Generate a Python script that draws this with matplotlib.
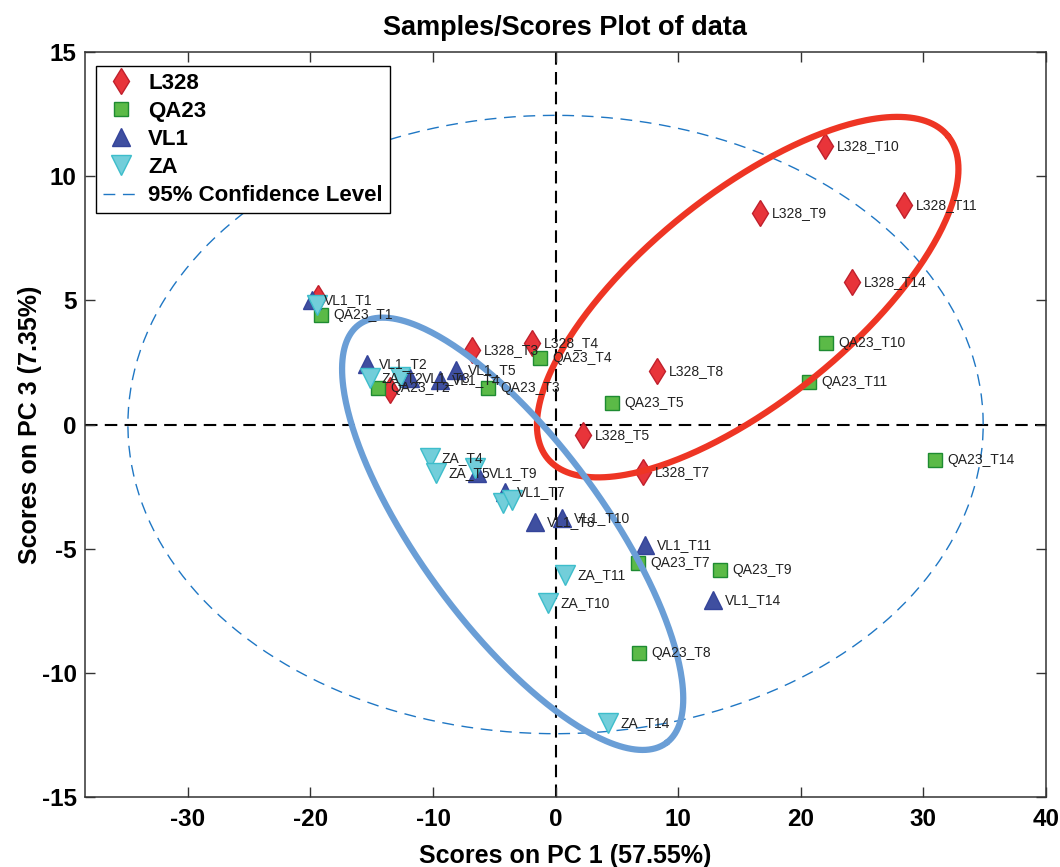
import matplotlib
matplotlib.use("Agg")
import matplotlib.pyplot as plt
from matplotlib.lines import Line2D
import numpy as np

plt.rcParams['font.family'] = ['Liberation Sans', 'DejaVu Sans']
plt.rcParams['axes.unicode_minus'] = False

# sampling times shared by every strain
sample_times = ["T1", "T2", "T3", "T4", "T5", "T7", "T8", "T9", "T10", "T11", "T14"]

# PCA scores (PC1, PC3) per strain
l328_pc1 = [-19.38, -13.49, -6.80, -1.91, 2.24, 7.15, 8.29, 16.70, 22.00, 28.45, 24.20]
l328_pc3 = [5.09, 1.39, 2.99, 3.28, -0.42, -1.91, 2.16, 8.52, 11.22, 8.84, 5.74]

qa23_pc1 = [-19.13, -14.47, -5.50, -1.25, 4.62, 6.75, 6.83, 13.43, 22.09, 20.70, 30.98]
qa23_pc3 = [4.41, 1.47, 1.47, 2.68, 0.87, -5.58, -9.20, -5.86, 3.28, 1.71, -1.43]

vl1_pc1 = [-19.86, -15.37, -11.86, -9.41, -8.11, -4.11, -1.66, -6.40, 0.54, 7.32, 12.86]
vl1_pc3 = [5.01, 2.42, 1.88, 1.80, 2.19, -2.72, -3.93, -1.95, -3.77, -4.85, -7.07]

za_pc1 = [-19.46, -15.14, -12.68, -10.23, -9.74, -4.27, -3.54, -6.56, -0.60, 0.79, 4.30]
za_pc3 = [4.81, 1.87, 1.91, -1.35, -1.95, -3.16, -3.04, -1.75, -7.19, -6.06, -12.00]

# labels suppressed by decluttering (they sit under other labels)
hidden_labels = {"L328_T1", "L328_T2", "ZA_T1", "ZA_T3", "ZA_T7", "ZA_T8", "ZA_T9"}

# 95% confidence ellipse semi-axes (PC1, PC3)
conf_a, conf_b = 34.9, 12.45

# group outlines: centre, major and minor half-axis vectors in score units
red_center, red_u, red_v = (15.68, 5.13), (16.36, 6.48), (5.31, -3.27)
blue_center, blue_u, blue_v = (-3.50, -4.40), (12.60, -8.40), (5.92, 2.28)

groups = [
    ("L328", l328_pc1, l328_pc3, dict(marker='d', ms=13, mfc='#E8343A', mec='#C0202C')),
    ("QA23", qa23_pc1, qa23_pc3, dict(marker='s', ms=10, mfc='#5BBA47', mec='#1E8B32')),
    ("VL1", vl1_pc1, vl1_pc3, dict(marker='^', ms=13.5, mfc='#3F4FA0', mec='#34449A')),
    ("ZA", za_pc1, za_pc3, dict(marker='v', ms=14, mfc='#72CEDA', mec='#3DBDCB')),
]

fig = plt.figure(figsize=(10.6, 8.67), dpi=100)
ax = fig.add_axes([0.0802, 0.0807, 0.9063, 0.8593])

# confidence ellipse
t = np.linspace(0, 2 * np.pi, 400)
ax.plot(conf_a * np.cos(t), conf_b * np.sin(t), color='#1F77C4', lw=1.0,
        linestyle=(0, (8.5, 5.5)), zorder=2)

# zero lines
ax.axhline(0, color='black', lw=1.5, linestyle=(0, (6, 3.5)), zorder=1)
ax.axvline(0, color='black', lw=1.5, linestyle=(0, (6, 3.5)), zorder=1)

handles = []
for name, xs, ys, style in groups:
    ax.plot(xs, ys, linestyle='none', mew=1.0, zorder=3, **style)
    handles.append(Line2D([], [], linestyle='none', mew=1.0, label=name, **style))

# sample labels on top of the markers
for name, xs, ys, style in groups:
    for tp, x, y in zip(sample_times, xs, ys):
        lab = f"{name}_{tp}"
        if lab in hidden_labels:
            continue
        ax.annotate(lab, (x, y), xytext=(8.5, 0), textcoords='offset points',
                    va='center', ha='left', fontsize=10, color='#222222', zorder=5)

# group outlines
for c, u, v, col in [(red_center, red_u, red_v, '#EE3524'),
                     (blue_center, blue_u, blue_v, '#6A9ED6')]:
    ex = c[0] + u[0] * np.cos(t) + v[0] * np.sin(t)
    ey = c[1] + u[1] * np.cos(t) + v[1] * np.sin(t)
    ax.plot(ex, ey, color=col, lw=4.5, zorder=4, solid_capstyle='round')

handles.append(Line2D([], [], color='#1F77C4', lw=1.0, linestyle=(0, (8.5, 5.5)),
                      label='95% Confidence Level'))
leg = ax.legend(handles=handles, loc='upper left', bbox_to_anchor=(0.0115, 0.981),
                borderaxespad=0, fancybox=False, edgecolor='black', framealpha=1,
                prop={'weight': 'bold', 'size': 16}, handlelength=1.6,
                handletextpad=0.45, labelspacing=0.32, borderpad=0.3)
leg.get_frame().set_linewidth(1.0)

ax.set_xlim(-38.4, 40)
ax.set_ylim(-15, 15)
ax.set_xticks(np.arange(-30, 41, 10))
ax.set_yticks(np.arange(-15, 16, 5))
ax.tick_params(direction='in', top=True, right=True, length=7.5, width=1.0,
               labelsize=17.5, color='#333333')
ax.tick_params(axis='x', pad=8)
ax.tick_params(axis='y', pad=6)
for lbl in ax.get_xticklabels() + ax.get_yticklabels():
    lbl.set_fontweight('bold')
for sp in ax.spines.values():
    sp.set_linewidth(1.1)
    sp.set_color('#333333')

ax.set_xlabel('Scores on PC 1 (57.55%)', fontsize=18, fontweight='bold', labelpad=9)
ax.set_ylabel('Scores on PC 3 (7.35%)', fontsize=18, fontweight='bold', labelpad=0)
ax.set_title('Samples/Scores Plot of data', fontsize=19.5, fontweight='bold', pad=12)

fig.savefig('out.png', dpi=100)
